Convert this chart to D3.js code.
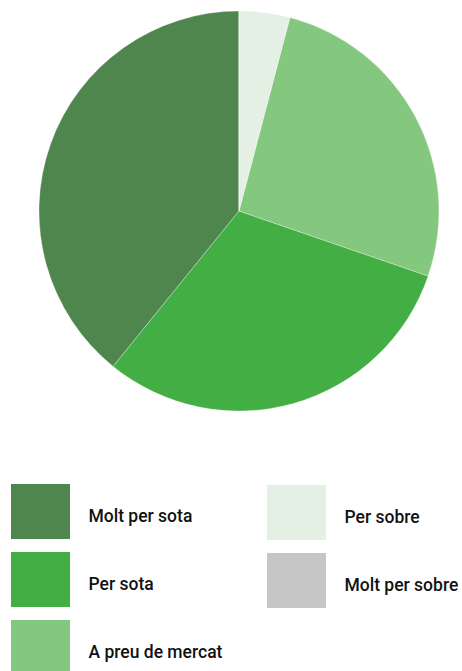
<!DOCTYPE html>
<html>
<head>
<meta charset="utf-8">
<script src="https://cdn.jsdelivr.net/npm/d3@7"></script>
<style>
  body { margin: 0; background: #fff; }
  svg { display: block; font-family: Roboto, sans-serif; }
  .legend-label { font-size: 17.5px; font-weight: 500; fill: #111; }
</style>
</head>
<body>
<svg id="chart"></svg>
<script>
// categories in drawing order (counter-clockwise from 12 o'clock)
const categories = ['Molt per sota', 'Per sota', 'A preu de mercat', 'Per sobre', 'Molt per sobre'];
const shares = [39.2, 30.6, 26.2, 4.1, 0];
const colours = ['#4f864e', '#43ae43', '#84c77f', '#e3f0e3', '#c6c6c6'];

const width = 462, height = 671;
const data = categories.map((c, i) => ({ name: c, value: shares[i] }));

const svg = d3.select('#chart')
    .attr('width', width)
    .attr('height', height);

const color = d3.scaleOrdinal()
    .domain(categories)
    .range(colours);

// pie goes counter-clockwise, starting at the top
const pie = d3.pie()
    .value(d => d.value)
    .sort(null)
    .startAngle(0)
    .endAngle(-2 * Math.PI);

const arc = d3.arc()
    .innerRadius(0)
    .outerRadius(200);

const pieG = svg.append('g')
    .attr('transform', 'translate(239,211)');

pieG.selectAll('path')
    .data(pie(data))
    .join('path')
    .attr('d', arc)
    .attr('fill', d => color(d.data.name))
    .attr('stroke', '#fff')
    .attr('stroke-width', 0.3);

// legend: two columns, three rows
const col = d3.scaleOrdinal().domain([0, 1]).range([11, 267]);
const row = d3.scaleLinear().domain([0, 1]).range([484, 552]);

const legend = svg.append('g');

const items = legend.selectAll('g')
    .data(categories)
    .join('g')
    .attr('transform', (d, i) => `translate(${col(Math.floor(i / 3))},${row(i % 3) + Math.floor(i / 3)})`);

items.append('rect')
    .attr('width', 59)
    .attr('height', 55)
    .attr('fill', d => color(d));

items.append('text')
    .attr('class', 'legend-label')
    .attr('x', 77.5)
    .attr('y', 38)
    .text(d => d);
</script>
</body>
</html>
